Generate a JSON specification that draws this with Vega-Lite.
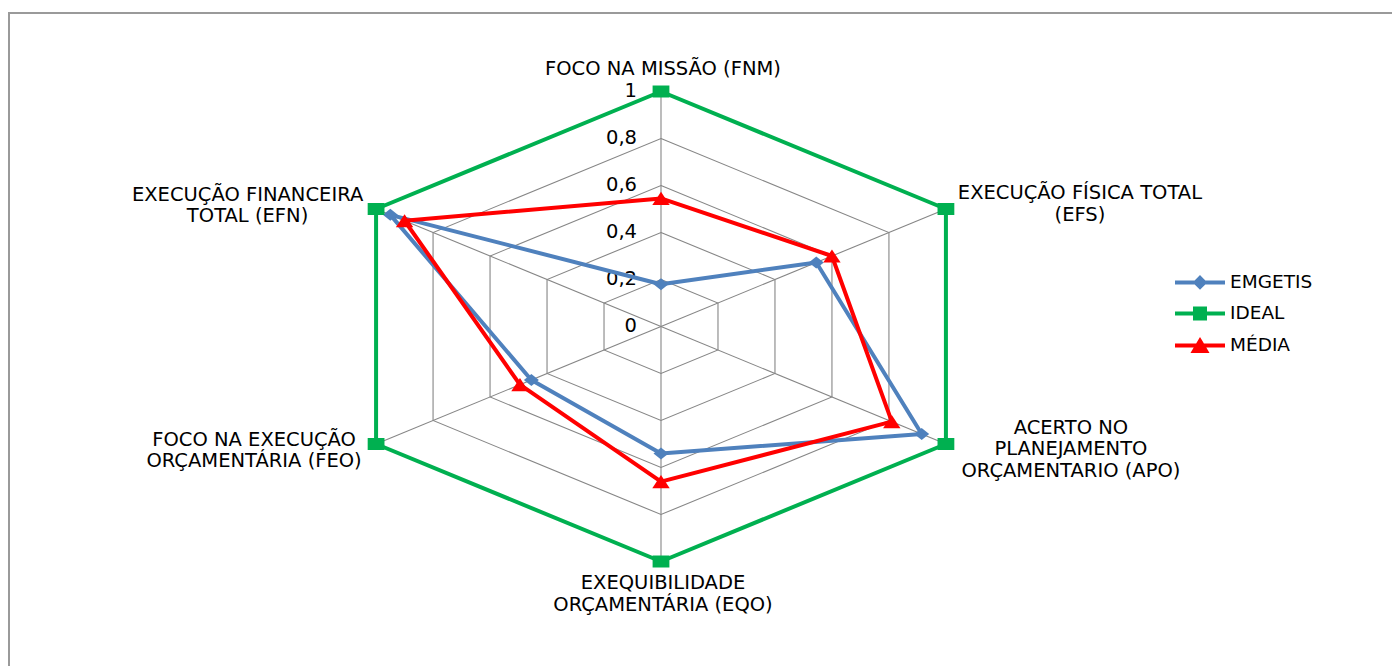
{
  "$schema": "https://vega.github.io/schema/vega-lite/v6.json",
  "width": 1392,
  "height": 666,
  "autosize": {"type": "none"},
  "padding": {"left": 9, "top": 13, "right": 0, "bottom": 0},
  "background": "white",
  "config": {
    "view": {"stroke": "#9a9a9a", "strokeWidth": 2},
    "text": {"font": "DejaVu Sans"}
  },
  "datasets": {
    "series": [
      {"serie": "EMGETIS", "eixo": "FNM", "ordem": 0, "valor": 0.18},
      {"serie": "EMGETIS", "eixo": "EFS", "ordem": 1, "valor": 0.545},
      {"serie": "EMGETIS", "eixo": "APO", "ordem": 2, "valor": 0.915},
      {"serie": "EMGETIS", "eixo": "EQO", "ordem": 3, "valor": 0.54},
      {"serie": "EMGETIS", "eixo": "FEO", "ordem": 4, "valor": 0.455},
      {"serie": "EMGETIS", "eixo": "EFN", "ordem": 5, "valor": 0.95},
      {"serie": "IDEAL", "eixo": "FNM", "ordem": 0, "valor": 1},
      {"serie": "IDEAL", "eixo": "EFS", "ordem": 1, "valor": 1},
      {"serie": "IDEAL", "eixo": "APO", "ordem": 2, "valor": 1},
      {"serie": "IDEAL", "eixo": "EQO", "ordem": 3, "valor": 1},
      {"serie": "IDEAL", "eixo": "FEO", "ordem": 4, "valor": 1},
      {"serie": "IDEAL", "eixo": "EFN", "ordem": 5, "valor": 1},
      {"serie": "MÉDIA", "eixo": "FNM", "ordem": 0, "valor": 0.545},
      {"serie": "MÉDIA", "eixo": "EFS", "ordem": 1, "valor": 0.6},
      {"serie": "MÉDIA", "eixo": "APO", "ordem": 2, "valor": 0.81},
      {"serie": "MÉDIA", "eixo": "EQO", "ordem": 3, "valor": 0.66},
      {"serie": "MÉDIA", "eixo": "FEO", "ordem": 4, "valor": 0.495},
      {"serie": "MÉDIA", "eixo": "EFN", "ordem": 5, "valor": 0.9}
    ],
    "eixos": [
      {"eixo": "FNM", "ordem": 0, "rotulo": "FOCO NA MISSÃO (FNM)"},
      {"eixo": "EFS", "ordem": 1, "rotulo": "EXECUÇÃO FÍSICA TOTAL\n(EFS)"},
      {"eixo": "APO", "ordem": 2, "rotulo": "ACERTO NO\nPLANEJAMENTO\nORÇAMENTARIO (APO)"},
      {"eixo": "EQO", "ordem": 3, "rotulo": "EXEQUIBILIDADE\nORÇAMENTÁRIA (EQO)"},
      {"eixo": "FEO", "ordem": 4, "rotulo": "FOCO NA EXECUÇÃO\nORÇAMENTÁRIA (FEO)"},
      {"eixo": "EFN", "ordem": 5, "rotulo": "EXECUÇÃO FINANCEIRA\nTOTAL (EFN)"}
    ],
    "niveis": [
      {"nivel": 0, "ordens": [0, 1, 2, 3, 4, 5]},
      {"nivel": 0.2, "ordens": [0, 1, 2, 3, 4, 5]},
      {"nivel": 0.4, "ordens": [0, 1, 2, 3, 4, 5]},
      {"nivel": 0.6, "ordens": [0, 1, 2, 3, 4, 5]},
      {"nivel": 0.8, "ordens": [0, 1, 2, 3, 4, 5]},
      {"nivel": 1, "ordens": [0, 1, 2, 3, 4, 5]}
    ]
  },
  "encoding": {
    "x": {"field": "px", "type": "quantitative", "scale": {"domain": [-1.98176, 2.24924], "nice": false, "zero": false}, "axis": null},
    "y": {"field": "py", "type": "quantitative", "scale": {"domain": [-1.5, 1.33404], "nice": false, "zero": false}, "axis": null}
  },
  "layer": [
    {
      "data": {"name": "niveis"},
      "transform": [
        {"filter": "datum.nivel > 0"},
        {"flatten": ["ordens"], "as": ["ordem"]},
        {"calculate": "PI/2 - datum.ordem*PI/3", "as": "ang"},
        {"calculate": "datum.nivel*cos(datum.ang)", "as": "px"},
        {"calculate": "datum.nivel*sin(datum.ang)", "as": "py"}
      ],
      "mark": {"type": "line", "interpolate": "linear-closed", "color": "#868686", "strokeWidth": 1.1},
      "encoding": {
        "detail": {"field": "nivel", "type": "nominal"},
        "order": {"field": "ordem", "type": "quantitative"}
      }
    },
    {
      "data": {"name": "eixos"},
      "transform": [
        {"calculate": "PI/2 - datum.ordem*PI/3", "as": "ang"},
        {"calculate": "cos(datum.ang)", "as": "px"},
        {"calculate": "sin(datum.ang)", "as": "py"}
      ],
      "layer": [
        {
          "mark": {"type": "rule", "color": "#868686", "strokeWidth": 1.1},
          "encoding": {"x2": {"datum": 0}, "y2": {"datum": 0}}
        },
        {
          "transform": [{"filter": "datum.ordem == 0"}],
          "mark": {"type": "text", "font": "DejaVu Sans", "fontSize": 19.5, "color": "#000000", "align": "center", "baseline": "middle", "lineBreak": "\n", "lineHeight": 21.5, "dx": 2, "dy": -22},
          "encoding": {"text": {"field": "rotulo", "type": "nominal"}}
        },
        {
          "transform": [{"filter": "datum.ordem == 1"}],
          "mark": {"type": "text", "font": "DejaVu Sans", "fontSize": 19.5, "color": "#000000", "align": "center", "baseline": "middle", "lineBreak": "\n", "lineHeight": 21.5, "dx": 134, "dy": -15.5},
          "encoding": {"text": {"field": "rotulo", "type": "nominal"}}
        },
        {
          "transform": [{"filter": "datum.ordem == 2"}],
          "mark": {"type": "text", "font": "DejaVu Sans", "fontSize": 19.5, "color": "#000000", "align": "center", "baseline": "middle", "lineBreak": "\n", "lineHeight": 21.5, "dx": 125, "dy": -16},
          "encoding": {"text": {"field": "rotulo", "type": "nominal"}}
        },
        {
          "transform": [{"filter": "datum.ordem == 3"}],
          "mark": {"type": "text", "font": "DejaVu Sans", "fontSize": 19.5, "color": "#000000", "align": "center", "baseline": "middle", "lineBreak": "\n", "lineHeight": 21.5, "dx": 2, "dy": 22},
          "encoding": {"text": {"field": "rotulo", "type": "nominal"}}
        },
        {
          "transform": [{"filter": "datum.ordem == 4"}],
          "mark": {"type": "text", "font": "DejaVu Sans", "fontSize": 19.5, "color": "#000000", "align": "center", "baseline": "middle", "lineBreak": "\n", "lineHeight": 21.5, "dx": -122, "dy": -4},
          "encoding": {"text": {"field": "rotulo", "type": "nominal"}}
        },
        {
          "transform": [{"filter": "datum.ordem == 5"}],
          "mark": {"type": "text", "font": "DejaVu Sans", "fontSize": 19.5, "color": "#000000", "align": "center", "baseline": "middle", "lineBreak": "\n", "lineHeight": 21.5, "dx": -128.5, "dy": -14},
          "encoding": {"text": {"field": "rotulo", "type": "nominal"}}
        }
      ]
    },
    {
      "data": {"name": "niveis"},
      "transform": [
        {"calculate": "0", "as": "px"},
        {"calculate": "datum.nivel", "as": "py"},
        {"calculate": "replace(format(datum.nivel, '.1~f'), '.', ',')", "as": "rot"}
      ],
      "mark": {"type": "text", "font": "DejaVu Sans", "fontSize": 19.5, "color": "#000000", "align": "right", "baseline": "middle", "dx": -24},
      "encoding": {"text": {"field": "rot", "type": "nominal"}}
    },
    {
      "data": {"name": "series"},
      "transform": [
        {"calculate": "PI/2 - datum.ordem*PI/3", "as": "ang"},
        {"calculate": "datum.valor*cos(datum.ang)", "as": "px"},
        {"calculate": "datum.valor*sin(datum.ang)", "as": "py"}
      ],
      "layer": [
        {
          "mark": {"type": "line", "interpolate": "linear-closed", "strokeWidth": 4, "strokeJoin": "round"},
          "encoding": {
            "color": {
              "field": "serie", "type": "nominal",
              "scale": {"domain": ["EMGETIS", "IDEAL", "MÉDIA"], "range": ["#4F81BD", "#00B050", "#FF0000"]},
              "legend": {
                "title": null, "orient": "none", "legendX": 1176.5, "legendY": 254.9,
                "padding": 0, "rowPadding": 4, "symbolSize": 625, "symbolStrokeWidth": 4,
                "labelFont": "DejaVu Sans", "labelFontSize": 18.5, "labelColor": "#000000", "labelOffset": 15.5,
                "encode": {
                  "symbols": {
                    "update": {
                      "shape": {"signal": "datum.value === 'EMGETIS' ? 'M-2,0L2,0M0,-0.36L0.36,0L0,0.36L-0.36,0Z' : datum.value === 'IDEAL' ? 'M-2,0L2,0M-0.4,-0.4L0.4,-0.4L0.4,0.4L-0.4,0.4Z' : 'M-2,0L2,0M0,-0.36L0.48,0.44L-0.48,0.44Z'"},
                      "fill": {"scale": "color", "field": "value"},
                      "stroke": {"scale": "color", "field": "value"},
                      "strokeWidth": {"value": 4},
                      "opacity": {"value": 1}
                    }
                  }
                }
              }
            },
            "detail": {"field": "serie", "type": "nominal"},
            "order": {"field": "ordem", "type": "quantitative"}
          }
        },
        {
          "transform": [{"filter": "datum.serie === 'EMGETIS'"}],
          "mark": {"type": "point", "filled": true, "opacity": 1, "size": 144, "strokeWidth": 0, "color": "#4F81BD", "shape": "M0,-1L1.25,0L0,1L-1.25,0Z"}
        },
        {
          "transform": [{"filter": "datum.serie === 'IDEAL'"}],
          "mark": {"type": "point", "filled": true, "opacity": 1, "size": 144, "strokeWidth": 0, "color": "#00B050", "shape": "M-1.4,-1L1.4,-1L1.4,1L-1.4,1Z"}
        },
        {
          "transform": [{"filter": "datum.serie === 'MÉDIA'"}],
          "mark": {"type": "point", "filled": true, "opacity": 1, "size": 144, "strokeWidth": 0, "color": "#FF0000", "shape": "M0,-1.1L1.45,1.1L-1.45,1.1Z"}
        }
      ]
    }
  ]
}
